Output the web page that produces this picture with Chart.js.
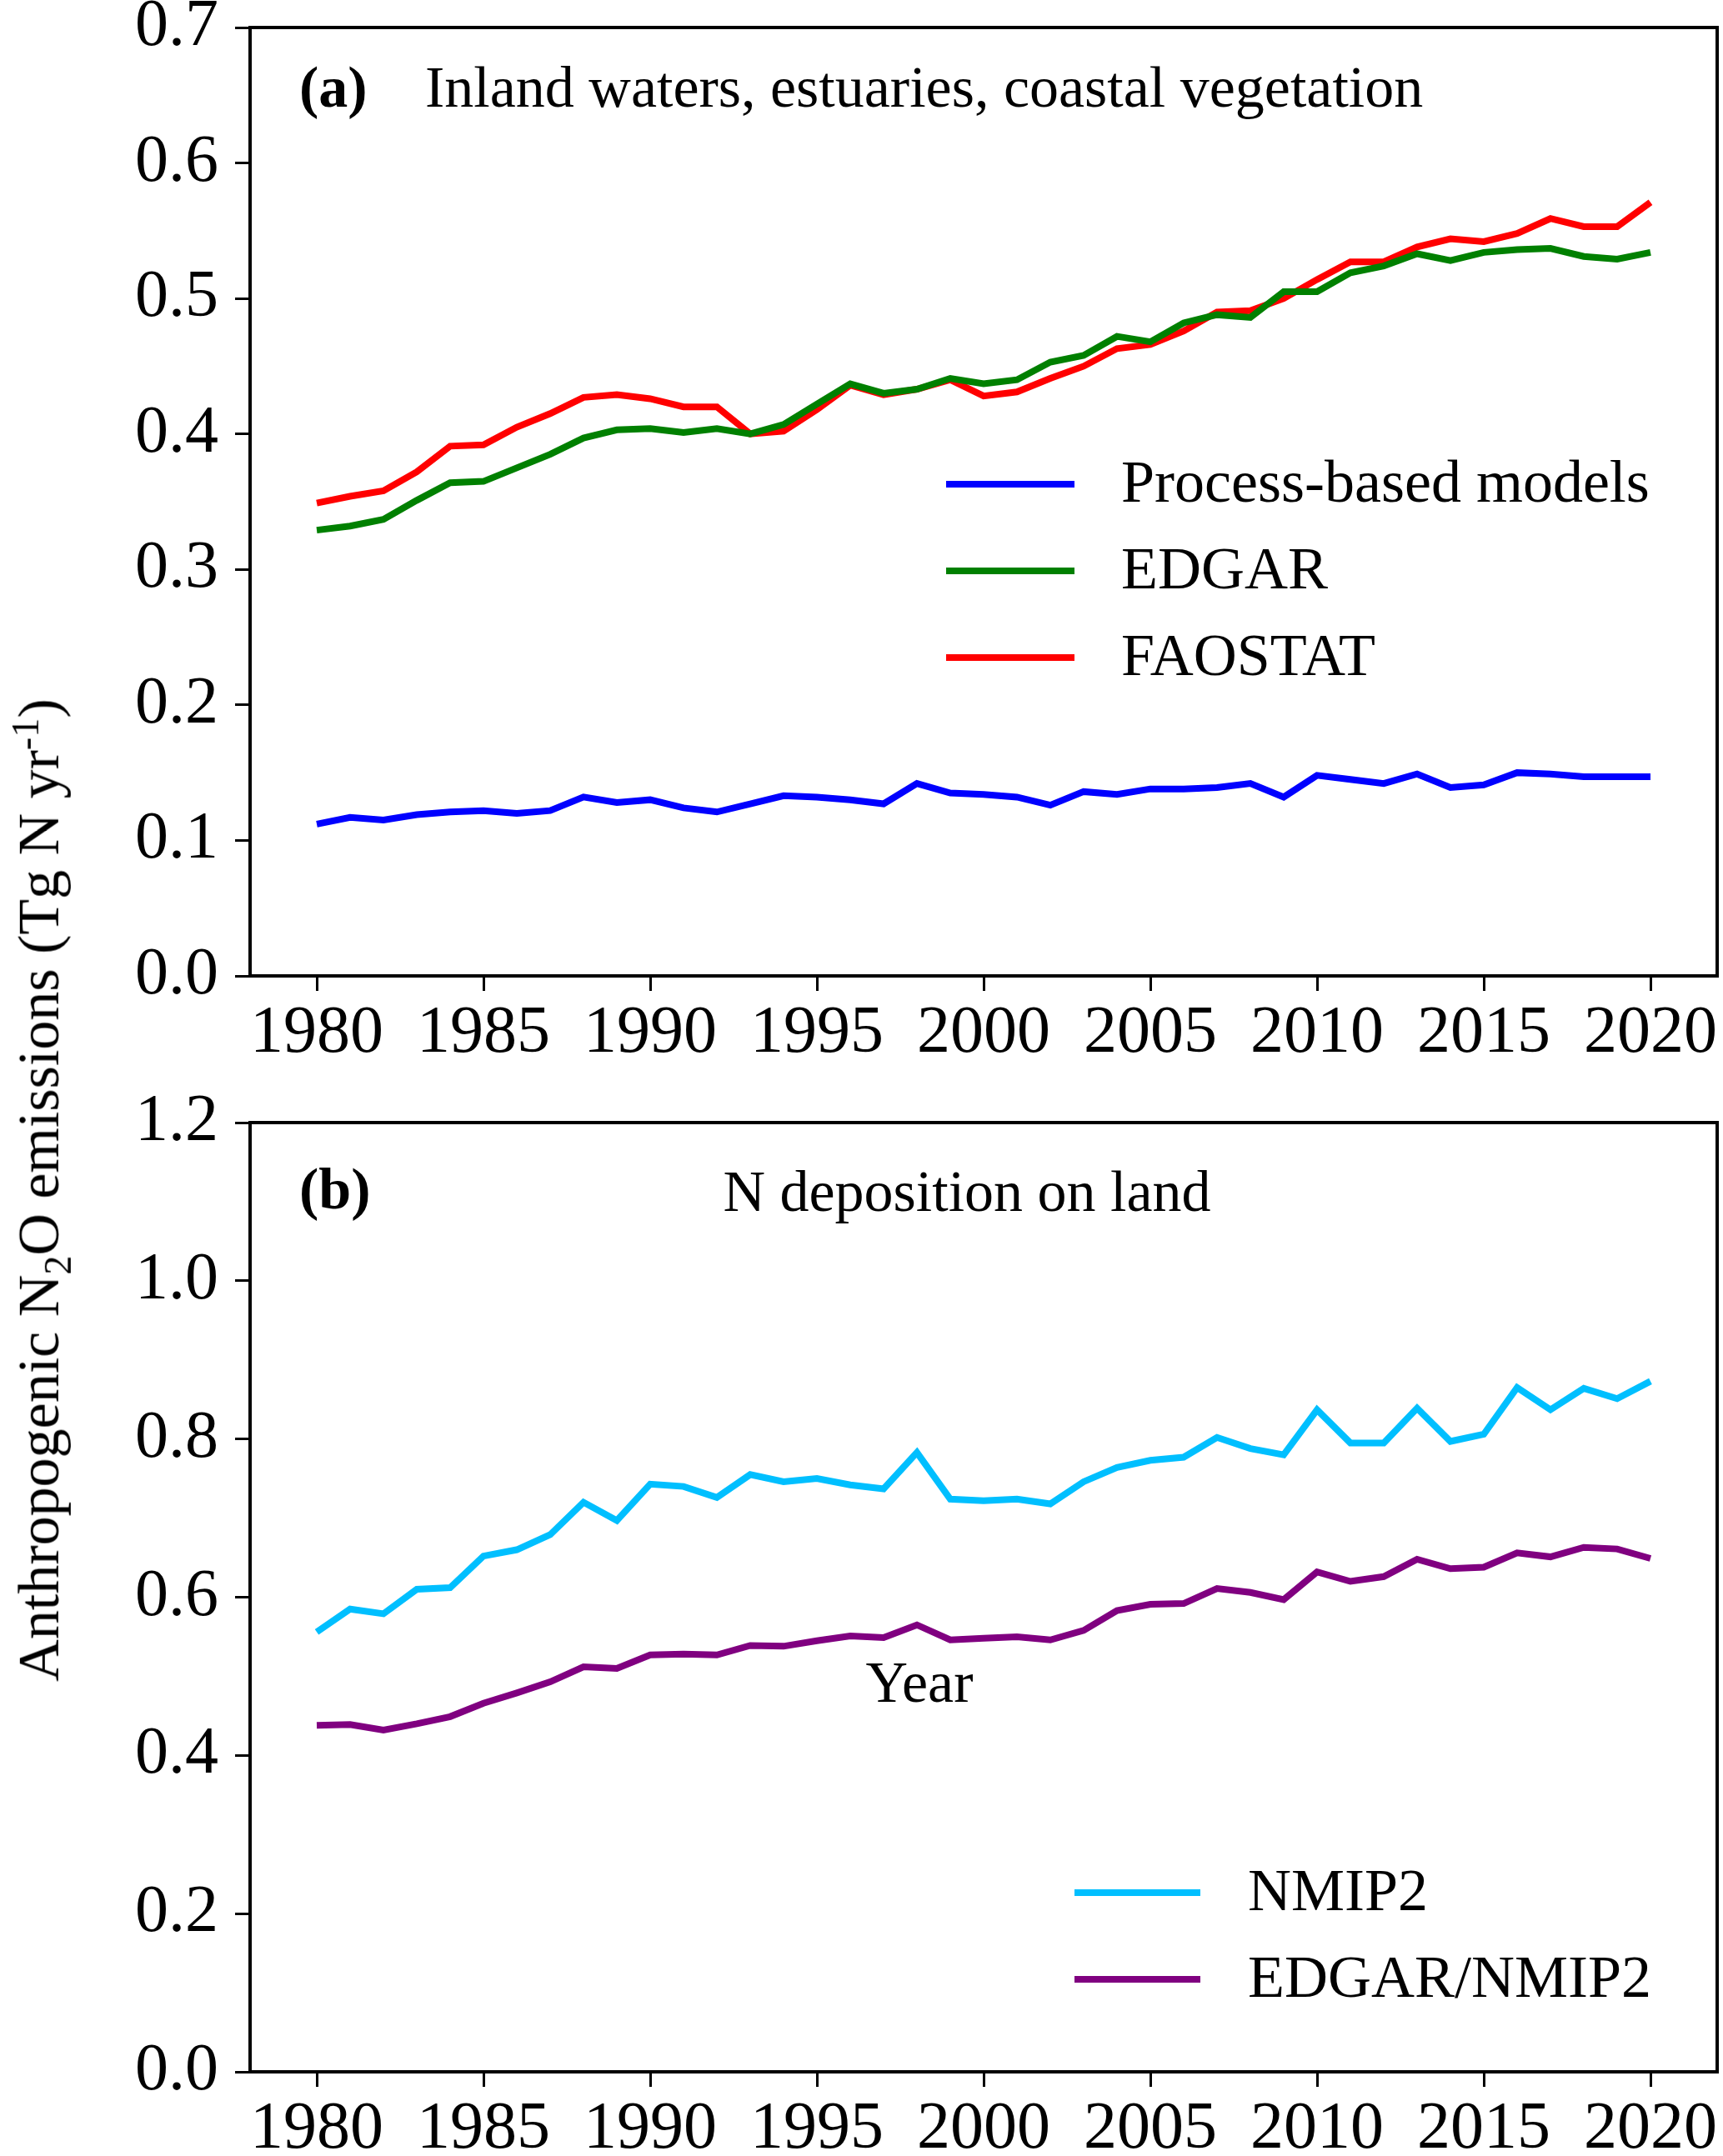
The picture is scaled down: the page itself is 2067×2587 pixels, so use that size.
<!DOCTYPE html>
<html>
<head>
<meta charset="utf-8">
<script src="https://cdn.jsdelivr.net/npm/chart.js@4.4.1/dist/chart.umd.min.js"></script>
<style>
    body { margin: 0; background: #fff; }
    #wrap { position: relative; width: 2067px; height: 2587px; overflow: hidden; background: #fff; }
    canvas { position: absolute; left: 0; }
    #ytitle {
        position: absolute; left: 50px; top: 1428px;
        transform: translate(-50%, -50%) rotate(-90deg);
        white-space: nowrap;
        font-family: "Liberation Serif", "Times New Roman", serif;
        font-size: 70px; color: #000;
    }
    #ytitle sub, #ytitle sup { font-size: 46px; }
</style>
</head>
<body>
<div id="wrap">
    <canvas id="chartA" width="2067" height="1300" style="top:0px"></canvas>
    <canvas id="chartB" width="2067" height="1287" style="top:1300px"></canvas>
    <div id="ytitle">Anthropogenic N<sub>2</sub>O emissions (Tg N yr<sup>-1</sup>)</div>
</div>
<script>
const years = [];
for (let y = 1980; y <= 2020; y++) years.push(y);

const xTicks = [1980, 1985, 1990, 1995, 2000, 2005, 2010, 2015, 2020];
const yTicksA = [0.0, 0.1, 0.2, 0.3, 0.4, 0.5, 0.6, 0.7];
const yTicksB = [0.0, 0.2, 0.4, 0.6, 0.8, 1.0, 1.2];

// panel (a): inland waters, estuaries, coastal vegetation
const processBased = [
    0.112, 0.117, 0.115, 0.119, 0.121, 0.122, 0.120, 0.122, 0.132, 0.128,
    0.130, 0.124, 0.121, 0.127, 0.133, 0.132, 0.130, 0.127, 0.142, 0.135,
    0.134, 0.132, 0.126, 0.136, 0.134, 0.138, 0.138, 0.139, 0.142, 0.132,
    0.148, 0.145, 0.142, 0.149, 0.139, 0.141, 0.150, 0.149, 0.147, 0.147, 0.147
];
const edgarA = [
    0.329, 0.332, 0.337, 0.351, 0.364, 0.365, 0.375, 0.385, 0.397, 0.403,
    0.404, 0.401, 0.404, 0.400, 0.407, 0.422, 0.437, 0.430, 0.433, 0.441,
    0.437, 0.440, 0.453, 0.458, 0.472, 0.468, 0.482, 0.488, 0.486, 0.505,
    0.505, 0.519, 0.524, 0.533, 0.528, 0.534, 0.536, 0.537, 0.531, 0.529, 0.534
];
const faostat = [
    0.349, 0.354, 0.358, 0.372, 0.391, 0.392, 0.405, 0.415, 0.427, 0.429,
    0.426, 0.420, 0.420, 0.400, 0.402, 0.418, 0.436, 0.429, 0.433, 0.440,
    0.428, 0.431, 0.441, 0.450, 0.463, 0.466, 0.476, 0.490, 0.491, 0.500,
    0.514, 0.527, 0.527, 0.538, 0.544, 0.542, 0.548, 0.559, 0.553, 0.553, 0.571
];

// panel (b): N deposition on land
const nmip2 = [
    0.556, 0.585, 0.579, 0.610, 0.612, 0.652, 0.660, 0.679, 0.720, 0.697,
    0.743, 0.740, 0.726, 0.755, 0.746, 0.750, 0.742, 0.737, 0.783, 0.724,
    0.722, 0.724, 0.718, 0.746, 0.764, 0.773, 0.777, 0.802, 0.788, 0.780,
    0.837, 0.795, 0.795, 0.839, 0.797, 0.806, 0.865, 0.837, 0.864, 0.851, 0.873
];
const edgarNmip2 = [
    0.438, 0.439, 0.432, 0.440, 0.449, 0.466, 0.479, 0.493, 0.512, 0.510,
    0.527, 0.528, 0.527, 0.539, 0.538, 0.545, 0.551, 0.549, 0.565, 0.546,
    0.548, 0.550, 0.546, 0.558, 0.583, 0.591, 0.592, 0.611, 0.606, 0.597,
    0.632, 0.620, 0.626, 0.648, 0.636, 0.638, 0.656, 0.651, 0.663, 0.661, 0.649
];

const FONT = '"Liberation Serif", "Times New Roman", serif';

function series(label, values, color) {
    return {
        label: label,
        data: years.map((y, i) => ({x: y, y: values[i]})),
        borderColor: color,
        backgroundColor: color,
        borderWidth: 8,
        pointRadius: 0,
        tension: 0,
        fill: false
    };
}

// box around the plot, titles and in-plot legend
const decorPlugin = {
    id: 'decor',
    afterDraw(chart, args, opts) {
        const ctx = chart.ctx;
        const a = chart.chartArea;
        ctx.save();
        ctx.strokeStyle = '#000';
        ctx.lineWidth = 4;
        ctx.strokeRect(a.left, a.top, a.right - a.left, a.bottom - a.top);

        ctx.fillStyle = '#000';
        ctx.textBaseline = 'middle';
        (opts.texts || []).forEach(t => {
            ctx.font = (t.bold ? 'bold ' : '') + t.size + 'px ' + FONT;
            ctx.textAlign = t.align || 'left';
            ctx.fillText(t.text, t.x, t.y);
        });

        const lg = opts.legend;
        if (lg) {
            ctx.font = lg.size + 'px ' + FONT;
            ctx.textAlign = 'left';
            chart.data.datasets.forEach((ds, i) => {
                const y = lg.rows[i];
                ctx.strokeStyle = ds.borderColor;
                ctx.lineWidth = 8;
                ctx.beginPath();
                ctx.moveTo(lg.x0, y);
                ctx.lineTo(lg.x1, y);
                ctx.stroke();
                ctx.fillStyle = '#000';
                ctx.fillText(ds.label, lg.tx, y + 2);
            });
        }
        ctx.restore();
    }
};

function makeChart(id, datasets, yMax, yTicks, padTop, xHeight, decor) {
    return new Chart(document.getElementById(id), {
        type: 'line',
        data: { datasets: datasets },
        options: {
            responsive: false,
            animation: false,
            devicePixelRatio: 1,
            layout: { padding: { top: padTop, right: 7, left: 0, bottom: 0 } },
            plugins: {
                legend: { display: false },
                tooltip: { enabled: false },
                decor: decor
            },
            scales: {
                x: {
                    type: 'linear',
                    min: 1978,
                    max: 2022,
                    afterBuildTicks: s => { s.ticks = xTicks.map(v => ({value: v})); },
                    afterFit: s => { s.height = xHeight; s.paddingLeft = 0; s.paddingRight = 0; },
                    grid: { display: true, drawOnChartArea: false, drawTicks: true, tickLength: 18, tickWidth: 3, tickColor: '#000' },
                    border: { display: true, color: '#000', width: 4 },
                    ticks: { color: '#000', font: { family: FONT, size: 80 }, padding: 4, maxRotation: 0, autoSkip: false,
                             callback: v => String(v) }
                },
                y: {
                    min: 0,
                    max: yMax,
                    afterBuildTicks: s => { s.ticks = yTicks.map(v => ({value: v})); },
                    afterFit: s => { s.width = 300; s.paddingTop = 0; s.paddingBottom = 0; },
                    grid: { display: true, drawOnChartArea: false, drawTicks: true, tickLength: 18, tickWidth: 3, tickColor: '#000' },
                    border: { display: true, color: '#000', width: 4 },
                    ticks: { color: '#000', font: { family: FONT, size: 80 }, padding: 20, callback: v => v.toFixed(1) }
                }
            }
        },
        plugins: [decorPlugin]
    });
}

makeChart('chartA', [
    series('Process-based models', processBased, '#0000ff'),
    series('EDGAR', edgarA, '#008000'),
    series('FAOSTAT', faostat, '#ff0000')
], 0.7, yTicksA, 33, 1300 - 1171, {
    texts: [
        {text: '(a)', x: 359, y: 110, size: 70, bold: true},
        {text: 'Inland waters, estuaries, coastal vegetation', x: 510, y: 110, size: 70}
    ],
    legend: { x0: 1135, x1: 1289, tx: 1345, size: 72, rows: [581, 685, 789] }
});

makeChart('chartB', [
    series('NMIP2', nmip2, '#00bfff'),
    series('EDGAR/NMIP2', edgarNmip2, '#800080')
], 1.2, yTicksB, 47, 1287 - 1186, {
    texts: [
        {text: '(b)', x: 359, y: 132, size: 70, bold: true},
        {text: 'N deposition on land', x: 1160, y: 135, size: 70, align: 'center'},
        {text: 'Year', x: 1103, y: 724, size: 70, align: 'center'}
    ],
    legend: { x0: 1289, x1: 1440, tx: 1497, size: 72, rows: [971, 1075] }
});
</script>
</body>
</html>
